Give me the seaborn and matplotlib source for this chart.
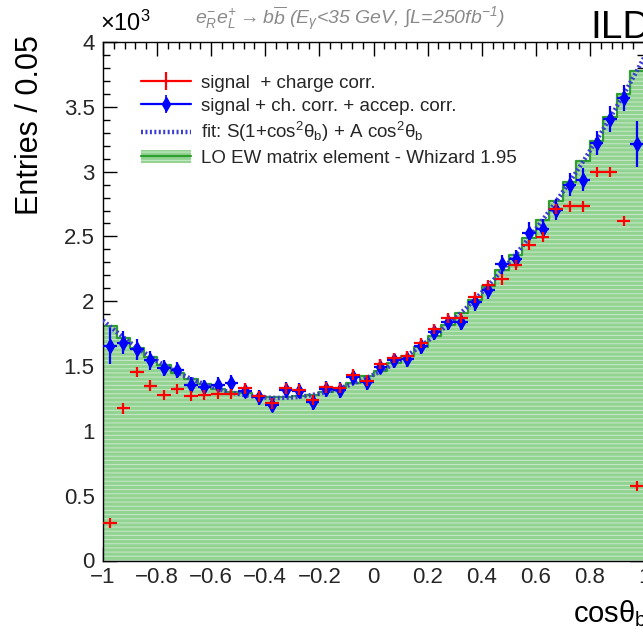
import numpy as np
import pandas as pd
import matplotlib
matplotlib.use("Agg")
import matplotlib.pyplot as plt
import seaborn as sns
from matplotlib.ticker import MultipleLocator, FuncFormatter
from matplotlib.lines import Line2D
from matplotlib.patches import Patch
from matplotlib.legend_handler import HandlerTuple

# ---- binning: cos(theta_b) in 40 bins of width 0.05 ----
bin_width = 0.05
edges = np.linspace(-1.0, 1.0, 41)
centers = 0.5 * (edges[:-1] + edges[1:])

# ---- entries per bin, in units of 10^3 ----
signal_charge_corr = [
    0.287, 1.173, 1.452, 1.349, 1.279, 1.323, 1.271, 1.279, 1.284, 1.284,
    1.328, 1.266, 1.212, 1.328, 1.318, 1.240, 1.336, 1.331, 1.434, 1.388,
    1.517, 1.564, 1.576, 1.680, 1.788, 1.871, 1.871, 2.029, 2.124, 2.168,
    2.279, 2.434, 2.498, 2.711, 2.731, 2.731, 2.998, 2.998, 2.620, 0.574,
]
signal_charge_err = [0.04] * 40

signal_accep_corr = [
    1.653, 1.680, 1.628, 1.543, 1.483, 1.471, 1.357, 1.336, 1.357, 1.370,
    1.310, 1.258, 1.202, 1.316, 1.310, 1.219, 1.323, 1.316, 1.413, 1.374,
    1.496, 1.543, 1.556, 1.653, 1.762, 1.840, 1.840, 1.995, 2.085, 2.284,
    2.326, 2.529, 2.558, 2.705, 2.899, 2.938, 3.222, 3.403, 3.571, 3.214,
]
signal_accep_err = [
    0.14, 0.09, 0.08, 0.07, 0.06, 0.06, 0.06, 0.06, 0.06, 0.06,
    0.06, 0.06, 0.06, 0.06, 0.06, 0.06, 0.06, 0.06, 0.06, 0.06,
    0.06, 0.06, 0.06, 0.06, 0.06, 0.06, 0.06, 0.07, 0.07, 0.07,
    0.07, 0.08, 0.08, 0.08, 0.09, 0.09, 0.09, 0.10, 0.10, 0.18,
]

whizard_lo = [
    1.81, 1.72, 1.64, 1.57, 1.51, 1.45, 1.40, 1.36, 1.32, 1.30,
    1.29, 1.27, 1.26, 1.26, 1.27, 1.28, 1.30, 1.33, 1.37, 1.42,
    1.46, 1.52, 1.58, 1.65, 1.73, 1.82, 1.91, 2.01, 2.12, 2.24,
    2.36, 2.49, 2.63, 2.77, 2.92, 3.08, 3.24, 3.42, 3.60, 3.78,
]

# fit parameters of S(1+cos^2) + A cos  (units of 10^3)
fit_S = 1.433
fit_A = 1.013

legend_labels = [
    "signal  + charge corr.",
    "signal + ch. corr. + accep. corr.",
    "fit: S(1+cos$^{2}$θ$_{b}$) + A cos$^{2}$θ$_{b}$",
    "LO EW matrix element - Whizard 1.95",
]

# ---- style ----
sns.set_theme(style="ticks")
plt.rcParams["font.family"] = ["Liberation Sans", "DejaVu Sans"]
plt.rcParams["mathtext.fontset"] = "custom"
plt.rcParams["mathtext.rm"] = "Liberation Sans"
plt.rcParams["mathtext.it"] = "Liberation Sans:italic"
plt.rcParams["mathtext.bf"] = "Liberation Sans:bold"
plt.rcParams["mathtext.default"] = "regular"
plt.rcParams["hatch.linewidth"] = 0.8
plt.rcParams["axes.unicode_minus"] = True

W, H = 643, 634
fig = plt.figure(figsize=(W / 100, H / 100), dpi=100)
ax = fig.add_axes([103 / W, 1 - 560.5 / H, 541 / W, 518.5 / H])

green_fill = "#92d392"
green_line = "#2e9e2e"
red = "#ff0000"
blue = "#0000ff"
fit_color = "#3b3bd6"

df_lo = pd.DataFrame({"cos": centers, "w": whizard_lo})

# LO prediction: filled histogram, light stripes, and step outline
sns.histplot(data=df_lo, x="cos", weights="w", binwidth=bin_width, binrange=(-1.0, 1.0),
             element="step", fill=True, color=green_fill, alpha=1.0, linewidth=0,
             ax=ax, zorder=1)
ax.stairs(whizard_lo, edges, fill=True, facecolor="none",
          edgecolor=(1, 1, 1, 0.45), hatch="----", linewidth=0, zorder=1.5)
sns.histplot(data=df_lo, x="cos", weights="w", binwidth=bin_width, binrange=(-1.0, 1.0),
             element="step", fill=False, color=green_line, linewidth=1.6,
             ax=ax, zorder=2)

# fit curve
x_fit = np.linspace(-1.0, 1.0, 300)
df_fit = pd.DataFrame({"cos": x_fit, "y": fit_S * (1 + x_fit ** 2) + fit_A * x_fit})
sns.lineplot(data=df_fit, x="cos", y="y", color=fit_color, linewidth=3.2,
             linestyle=(0, (0.45, 0.55)), ax=ax, zorder=3)

# measured distributions
ax.errorbar(centers, signal_accep_corr, yerr=signal_accep_err, xerr=bin_width / 2,
            fmt="d", color=blue, markersize=7, elinewidth=1.6, capsize=0, zorder=4)
ax.errorbar(centers, signal_charge_corr, yerr=signal_charge_err, xerr=bin_width / 2,
            fmt="none", ecolor=red, elinewidth=1.6, capsize=0, zorder=5)

# ---- axes ----
ax.set_xlim(-1.0, 1.0)
ax.set_ylim(0, 4.0)
ax.set_xlabel("")
ax.set_ylabel("")
ax.xaxis.set_major_locator(MultipleLocator(0.2))
ax.xaxis.set_minor_locator(MultipleLocator(0.04))
ax.yaxis.set_major_locator(MultipleLocator(0.5))
ax.yaxis.set_minor_locator(MultipleLocator(0.1))
fmt = FuncFormatter(lambda v, p: ("%g" % round(v, 3)).replace("-", "\u2212"))
ax.xaxis.set_major_formatter(fmt)
ax.yaxis.set_major_formatter(fmt)
ax.tick_params(which="both", direction="in", top=True, right=True, width=1.0,
               color="black", labelsize=16)
ax.tick_params(which="major", length=10)
ax.tick_params(which="minor", length=5)
ax.tick_params(axis="x", which="major", pad=5)
ax.tick_params(axis="y", which="major", pad=6)
for s in ax.spines.values():
    s.set_linewidth(1.0)
    s.set_color("black")

# ---- legend ----
h_red = (Line2D([], [], color=red, lw=1.6),
         Line2D([], [], color=red, lw=0, marker="|", markersize=13, markeredgewidth=1.6))
h_blue = (Line2D([], [], color=blue, lw=1.6),
          Line2D([], [], color=blue, lw=0, marker="|", markersize=13, markeredgewidth=1.2),
          Line2D([], [], color=blue, lw=0, marker="d", markersize=7))
h_fit = Line2D([], [], color=fit_color, lw=3.2, linestyle=(0, (0.45, 0.55)))
h_lo = (Patch(facecolor=green_fill, edgecolor="none"),
        Patch(facecolor="none", edgecolor=(1, 1, 1, 0.45), hatch="----", linewidth=0),
        Line2D([], [], color=green_line, lw=1.6))
ax.legend([h_red, h_blue, h_fit, h_lo], legend_labels,
          handler_map={tuple: HandlerTuple(ndivide=1)},
          loc="upper left", bbox_to_anchor=(0.07, 0.937), frameon=False,
          fontsize=13.5, handlelength=2.7, handletextpad=0.5,
          labelspacing=0.3, borderpad=0, borderaxespad=0)

# ---- annotations ----
fig.text(0.5 * (195 + 505) / W, 1 - 25 / H,
         r"$\mathit{e}^{-}_{\mathit{R}}\mathit{e}^{+}_{\mathit{L}}\rightarrow \mathit{b}\overline{\mathit{b}}$"
         r" ($\mathit{E}_{\gamma}$<35 GeV, $\int$L=250fb$^{-1}$)",
         ha="center", va="baseline", fontsize=14, color="#8a8a8a", style="italic")
fig.text(100 / W, 1 - 31 / H, r"$\times$10$^{3}$", ha="left", va="baseline",
         fontsize=17, color="black")
fig.text(590 / W, 1 - 38 / H, "ILD", ha="left", va="baseline", fontsize=28,
         color="black")
fig.text(30 / W, 1 - 35 / H, "Entries / 0.05", rotation=90, ha="center",
         va="top", fontsize=22, color="black")
fig.text(573 / W, 1 - 622 / H, "cosθ$_{b}$", ha="left", va="baseline",
         fontsize=21, color="black")

fig.savefig("out.png", dpi=100)
